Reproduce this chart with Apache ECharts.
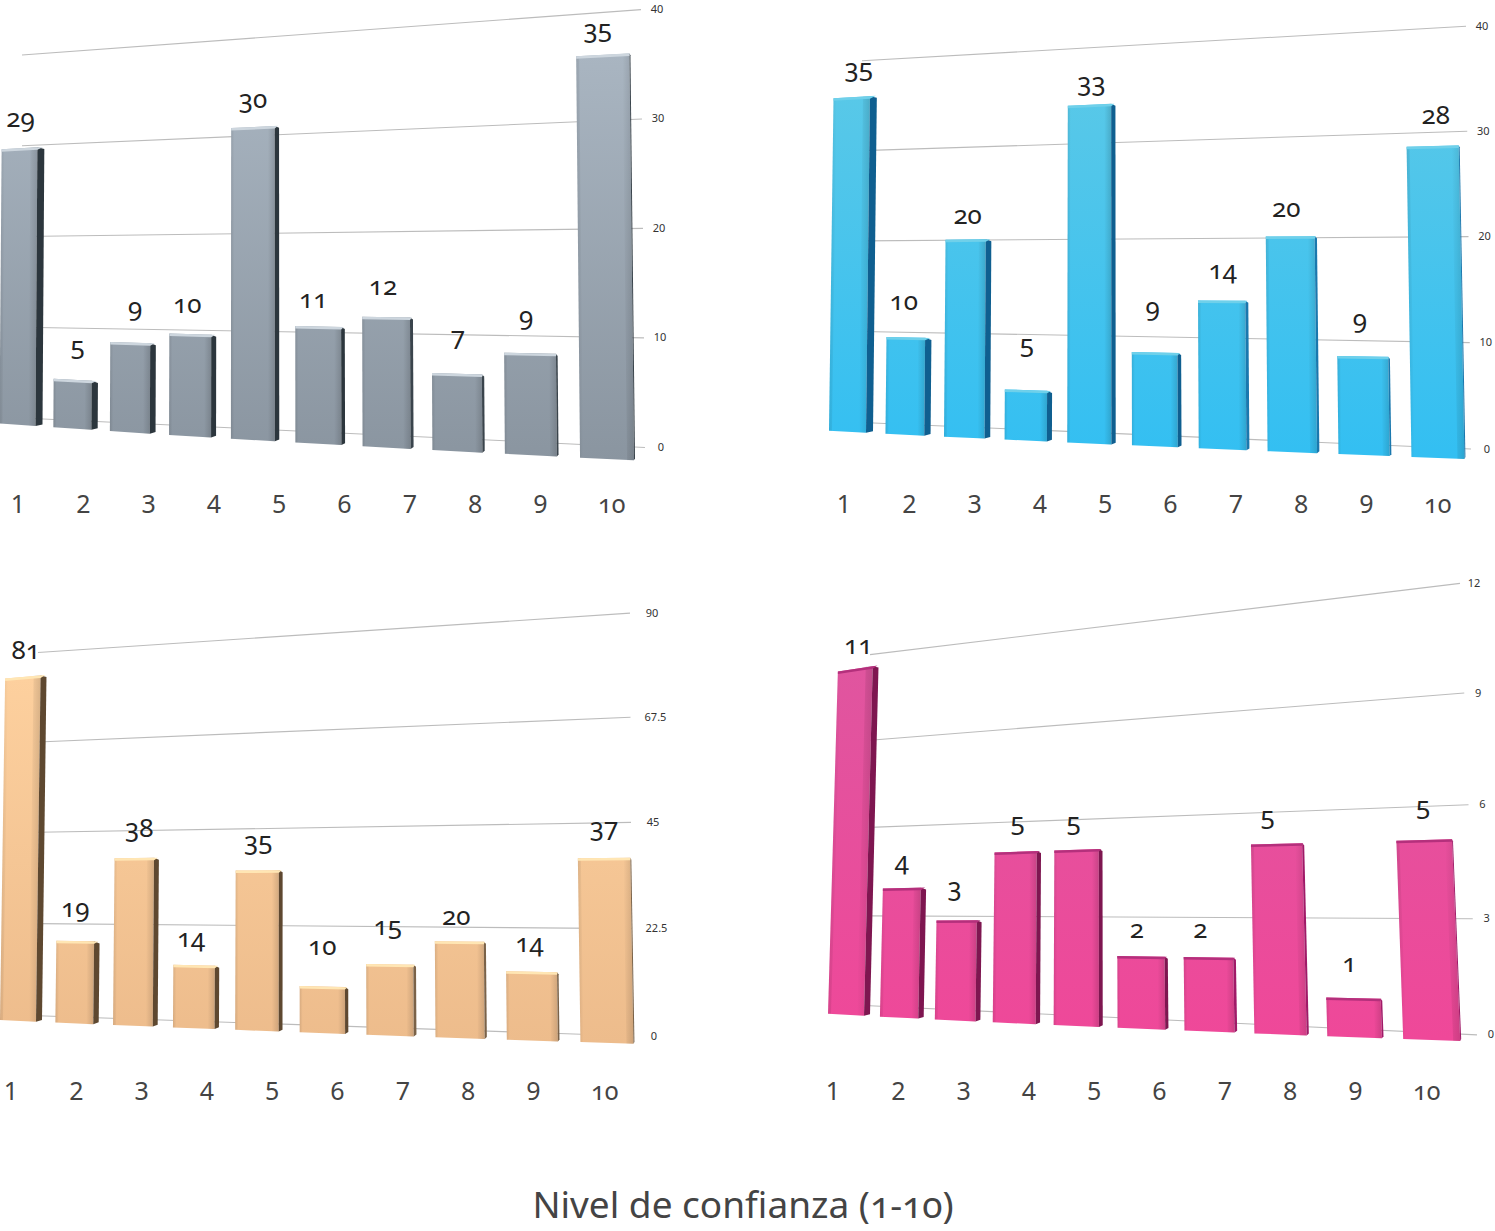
<!DOCTYPE html>
<html><head><meta charset="utf-8">
<style>
html,body{margin:0;padding:0;background:#fff}
#c{width:1495px;height:1231px}
svg text{font-feature-settings:"onum" 1;font-variant-numeric:oldstyle-nums}
svg text[style*="11px"]{font-feature-settings:"lnum" 1;font-variant-numeric:lining-nums}
</style>
<script src="https://cdn.jsdelivr.net/npm/echarts@6/dist/echarts.min.js"></script>
</head><body><div id="c"></div>
<script>
const categories = ['1','2','3','4','5','6','7','8','9','10'];
const grayValues = [29,5,9,10,30,11,12,7,9,35];
const blueValues = [35,10,20,5,33,9,14,20,9,28];
const peachValues = [81,19,38,14,35,10,15,20,14,37];
const pinkValues = [11,4,3,5,5,2,2,5,1,5];
const grayTicks = [0,10,20,30,40];
const blueTicks = [0,10,20,30,40];
const peachTicks = [0,22.5,45,67.5,90];
const pinkTicks = [0,3,6,9,12];
const titleText = 'Nivel de confianza (1-10)';

const FONT = '"Noto Sans","Open Sans",sans-serif';

// perspective of each panel: how the flat axes are projected on the tilted picture
const panels = [
 {values:grayValues,ticks:grayTicks,vmax:40,gx:18,gy:10,gb:480,
  x0:21,a:53.2,b:1.33,base:[425,459],unit:[9.55,11.55],w:[43,55],side:[7,1],vx:260,k:3e-5,
  back:{xl:22,xr:636,l0:418,lm:55,r0:447,rm:10,start:22,end0:645,endm:641,bow:0,tickDx:16},
  face:['#a9b5c1','#8a95a0'],sideC:['#2c363d','#3a444c'],topC:'#cdd6de',top:55,bottom:460,
  nudge:[[1,-4],[5,-8],[5,-10],[-3,-4],[0,-2],[-5,-2],[-3,-5],[1,-12],[-4,-11],[-5,0]]},
 {values:blueValues,ticks:blueTicks,vmax:40,gx:844,gy:10,gb:480,
  x0:851,a:56,b:1.03,base:[432,458],unit:[9.57,11.14],w:[44,54],side:[7,1],vx:1100,k:5e-5,
  back:{xl:875,xr:1470,l0:423,lm:60,r0:449,rm:26,start:862,end0:1471,endm:1466,bow:0.002,tickDx:16},
  face:['#58c8e8','#33bff2'],sideC:['#0f5f90','#1a78ae'],topC:'#6fd0ea',top:97,bottom:458,
  nudge:[[7,-3],[-2,-10],[2,2],[1,-20],[2,3],[-2,-19],[1,-5],[-4,-2],[-3,-11],[3,-5]]},
 {values:peachValues,ticks:peachTicks,vmax:90,gx:11,gy:600,gb:1067,
  x0:21,a:54.9,b:1.14,base:[1021,1043],unit:[4.25,5.0],w:[42,54],side:[6,1],vx:300,k:5e-5,
  back:{xl:45,xr:632,l0:1016,lm:652,r0:1036,rm:613,start:38,end0:632,endm:630,bow:0.005,tickDx:22},
  face:['#fdd09e','#edbc8c'],sideC:['#5e4830','#7a6248'],topC:'#ffe6b4',top:677,bottom:1043,
  nudge:[[3,-1],[0,-7],[5,-4],[-3,-1],[1,-3],[0,-15],[-2,-12],[-3,1],[-2,-3],[0,-5]]},
 {values:pinkValues,ticks:pinkTicks,vmax:12,gx:833,gy:580,gb:1067,
  x0:849,a:51.3,b:1.5,base:[1015,1040],unit:[31.5,40],w:[42,58],side:[6,1],vx:1090,k:1.1e-4,
  back:{xl:875,xr:1480,l0:1006,lm:654,r0:1035,rm:581,start:870,end0:1477,endm:1460,bow:0.008,tickDx:14},
  face:['#e0559f','#ef4899'],sideC:['#7e1650','#a01a68'],topC:'#b4307c',top:669,bottom:1040,
  nudge:[[3,2],[0,-1],[-2,-7],[2,-4],[-3,-2],[-4,-1],[-8,-2],[-9,-2],[-4,-9],[-1,-8]]}
];

function lerp(a,b,t){return a+(b-a)*t;}

function flat(api,params,i,v,p){
  const c = api.coord([i,v]);
  const cs = params.coordSys;
  return {i:(c[0]-cs.x)/cs.width*9, v:(cs.y+cs.height-c[1])/cs.height*p.vmax};
}
function frontPoint(p,i,v,off){
  const xb=p.x0+p.a*i+p.b*i*i+off;
  const step=p.a+2*p.b*i;
  const ti=(i+off/step)/9;
  const base=lerp(p.base[0],p.base[1],ti);
  const y=base-lerp(p.unit[0],p.unit[1],ti)*v;
  const x=xb+(p.vx-xb)*p.k*(base-y);
  return [x,y];
}

function renderBar(p){
  return function(params,api){
    const f=flat(api,params,api.value(0),api.value(1),p);
    const i=f.i,v=f.v,t=i/9;
    const W=lerp(p.w[0],p.w[1],t), S=lerp(p.side[0],p.side[1],t), h=W/2;
    const bl=frontPoint(p,i,0,-h), br=frontPoint(p,i,0,h-S), tl=frontPoint(p,i,v,-h), tr=frontPoint(p,i,v,h-S);
    const sb=frontPoint(p,i,0,h), st=frontPoint(p,i,v,h);
    const grad={type:'linear',x:0,y:p.top,x2:0,y2:p.bottom,global:true,
      colorStops:[{offset:0,color:p.face[0]},{offset:1,color:p.face[1]}]};
    const sideC=t<0.6?p.sideC[0]:p.sideC[1];
    const hw=[
      {type:'polygon',shape:{points:[tl,tr,br,bl]},style:{fill:grad}},
      {type:'polygon',shape:{points:[[tr[0]-7,tr[1]],tr,br,[br[0]-7,br[1]]]},
       style:{fill:{type:'linear',x:0,y:0,x2:1,y2:0,colorStops:[{offset:0,color:'rgba(0,0,0,0)'},{offset:1,color:'rgba(0,0,0,0.14)'}]}}},
      {type:'polygon',shape:{points:[tl,[tl[0]+3,tl[1]],[bl[0]+3,bl[1]],bl]},
       style:{fill:{type:'linear',x:0,y:0,x2:1,y2:0,colorStops:[{offset:0,color:'rgba(0,0,0,0.10)'},{offset:1,color:'rgba(0,0,0,0)'}]}}},
      {type:'polygon',shape:{points:[tr,[st[0],st[1]+2],[sb[0],sb[1]-2],br]},style:{fill:sideC}},
      {type:'polygon',shape:{points:[[tl[0],tl[1]+2.5],tl,[st[0]-1,st[1]],[tr[0],tr[1]+2.5]]},style:{fill:p.topC}}
    ];
    const mid=frontPoint(p,i,v,0);
    const n=p.nudge[Math.round(i)];
    hw.push({type:'text',style:{text:String(api.value(1)),x:mid[0]-S/2+n[0],y:mid[1]-27+n[1],align:'center',verticalAlign:'middle',
      fontFamily:FONT,fontSize:26,fill:'#222'}});
    return {type:'group',children:hw};
  };
}

function renderLine(p){
  return function(params,api){
    const c=api.coord([0,api.value(0)]);
    const cs=params.coordSys;
    const f=(cs.y+cs.height-c[1])/cs.height;
    const b=p.back;
    const u=f+b.bow*4*f*(1-f);
    const yl=lerp(b.l0,b.lm,u), yr=lerp(b.r0,b.rm,u);
    const yAt=x=>lerp(yl,yr,(x-b.xl)/(b.xr-b.xl));
    const end=lerp(b.end0,b.endm,f);
    const label=String(api.value(0));
    return {type:'group',children:[
      {type:'line',shape:{x1:b.start,y1:yAt(b.start),x2:end,y2:yAt(end)},style:{stroke:'#bcbcbc',lineWidth:1.1}},
      {type:'text',style:{text:label,x:end+b.tickDx+(label.length>3?3:0),y:yAt(end)-1,align:'center',verticalAlign:'middle',
        fontFamily:FONT,fontSize:11,fill:'#333'}}
    ]};
  };
}

const grids=[],xAxes=[],yAxes=[],series=[];
panels.forEach((p,n)=>{
  grids.push({left:p.gx,width:9*65.3,top:p.gy,height:p.gb-p.gy});
  xAxes.push({type:'category',gridIndex:n,data:categories,boundaryGap:false,
    axisLine:{show:false},axisTick:{show:false},splitLine:{show:false},
    axisLabel:{interval:0,margin:10,fontFamily:FONT,fontSize:25,color:'#444',hideOverlap:false,showMinLabel:true,showMaxLabel:true,
      formatter:v=>v==='10'?'{t|10}':v,rich:{t:{padding:[0,0,0,12],fontFamily:FONT,fontSize:25,color:'#444'}}}});
  yAxes.push({type:'value',gridIndex:n,min:0,max:p.vmax,interval:p.vmax/4,
    axisLine:{show:false},axisTick:{show:false},splitLine:{show:false},axisLabel:{show:false}});
  series.push({type:'custom',xAxisIndex:n,yAxisIndex:n,z:1,clip:false,silent:true,
    coordinateSystem:'cartesian2d',encode:{x:1,y:0},
    data:p.ticks.map(t=>[t,0]),renderItem:renderLine(p)});
  series.push({type:'custom',xAxisIndex:n,yAxisIndex:n,z:2,clip:false,silent:true,
    coordinateSystem:'cartesian2d',encode:{x:0,y:1},
    data:p.values.map((v,i)=>[i,v]),renderItem:renderBar(p)});
});

const chart=echarts.init(document.getElementById('c'),null,{renderer:'svg'});
chart.setOption({
  animation:false,backgroundColor:'#fff',
  title:{text:titleText,left:738,top:1180,textAlign:'center',
    textStyle:{fontFamily:FONT,fontSize:37,fontWeight:'normal',color:'#444'}},
  grid:grids,xAxis:xAxes,yAxis:yAxes,series:series
});
</script></body></html>
